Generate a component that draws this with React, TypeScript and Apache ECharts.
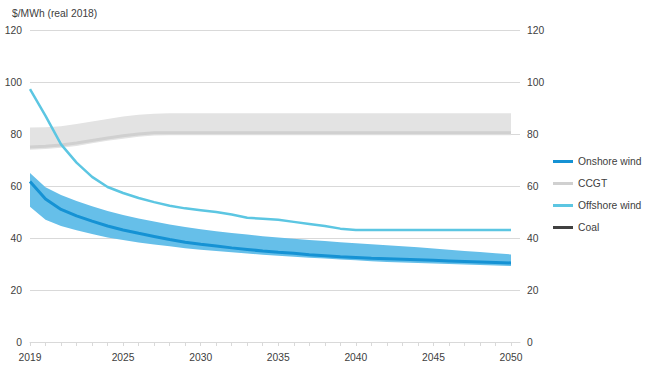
import React, { useEffect, useRef } from "react";
import * as echarts from "echarts";

const years = [
  2019, 2020, 2021, 2022, 2023, 2024, 2025, 2026, 2027, 2028, 2029, 2030, 2031, 2032, 2033, 2034,
  2035, 2036, 2037, 2038, 2039, 2040, 2041, 2042, 2043, 2044, 2045, 2046, 2047, 2048, 2049, 2050,
];

const onshoreWind = [
  61.7, 55.0, 51.0, 48.5, 46.5, 44.6, 43.1, 41.8, 40.6, 39.4, 38.4, 37.6, 36.9, 36.2, 35.6, 35.0,
  34.5, 34.1, 33.6, 33.2, 32.8, 32.5, 32.2, 32.0, 31.8, 31.6, 31.4, 31.2, 31.0, 30.8, 30.6, 30.4,
];
const onshoreHigh = [
  65.0, 59.5, 56.5, 54.2, 52.2, 50.4, 48.8, 47.5, 46.3, 45.2, 44.2, 43.4, 42.6, 41.9, 41.3, 40.7,
  40.2, 39.7, 39.2, 38.8, 38.4, 38.0, 37.6, 37.2, 36.8, 36.4, 36.0, 35.5, 35.0, 34.6, 34.1, 33.7,
];
const onshoreLow = [
  52.0, 47.0, 44.6, 43.0, 41.5, 40.2, 39.2, 38.3, 37.5, 36.8, 36.1, 35.5, 35.0, 34.5, 34.0, 33.6,
  33.2, 32.8, 32.4, 32.1, 31.7, 31.4, 31.1, 30.8, 30.6, 30.4, 30.2, 30.0, 29.8, 29.6, 29.4, 29.2,
];

const offshoreWind = [
  97.3, 87.0, 76.0, 69.0, 63.5, 59.6, 57.3, 55.4, 53.8, 52.4, 51.4, 50.7, 50.0, 49.0, 47.8, 47.4,
  47.0, 46.2, 45.4, 44.6, 43.6, 43.1, 43.1, 43.1, 43.1, 43.1, 43.1, 43.1, 43.1, 43.1, 43.1, 43.1,
];

const ccgt = [
  75.0, 75.3, 75.8, 76.5, 77.5, 78.5, 79.3, 80.0, 80.5, 80.5, 80.5, 80.5, 80.5, 80.5, 80.5, 80.5,
  80.5, 80.5, 80.5, 80.5, 80.5, 80.5, 80.5, 80.5, 80.5, 80.5, 80.5, 80.5, 80.5, 80.5, 80.5, 80.5,
];
const ccgtHigh = [
  82.5, 82.6, 83.0, 83.8, 84.8, 85.8, 86.7, 87.4, 87.8, 88.0, 88.0, 88.0, 88.0, 88.0, 88.0, 88.0,
  88.0, 88.0, 88.0, 88.0, 88.0, 88.0, 88.0, 88.0, 88.0, 88.0, 88.0, 88.0, 88.0, 88.0, 88.0, 88.0,
];
const ccgtLow = [
  73.9, 74.2, 74.7, 75.4, 76.4, 77.4, 78.2, 78.9, 79.4, 79.5, 79.5, 79.5, 79.5, 79.5, 79.5, 79.5,
  79.5, 79.5, 79.5, 79.5, 79.5, 79.5, 79.5, 79.5, 79.5, 79.5, 79.5, 79.5, 79.5, 79.5, 79.5, 79.5,
];

const coal: number[] = [];

const legendNames = ["Onshore wind", "CCGT", "Offshore wind", "Coal"];
const yTicks = [0, 20, 40, 60, 80, 100, 120];
const labelledYears = [2019, 2025, 2030, 2035, 2040, 2045, 2050];
const unitTitle = "$/MWh (real 2018)";

const FONT = "'Liberation Sans', Arial, sans-serif";
const FS = 10.3;
const TEXT = "#404040";
const GRID = "#d9d9d9";

function bandSeries(name: string, low: number[], high: number[], fill: string, z: number) {
  return {
    name,
    type: "custom",
    silent: true,
    z,
    data: years.map((y, i) => [y, low[i], high[i]]),
    encode: { x: 0, y: [1, 2] },
    renderItem: (params: any, api: any) => {
      if (params.dataIndex !== 0) return null;
      const pts: number[][] = [];
      for (let i = 0; i < years.length; i++) pts.push(api.coord([years[i], high[i]]));
      for (let i = years.length - 1; i >= 0; i--) pts.push(api.coord([years[i], low[i]]));
      return { type: "polygon", shape: { points: pts }, style: { fill, stroke: null } };
    },
  };
}

function lineSeries(name: string, values: number[], color: string, width: number, z: number) {
  return {
    name,
    type: "line",
    z,
    data: values.map((v, i) => [years[i], v]),
    showSymbol: false,
    symbol: "none",
    smooth: false,
    color,
    itemStyle: { color },
    lineStyle: { color, width },
  };
}

export default function App() {
  const ref = useRef<HTMLDivElement>(null);
  useEffect(() => {
    if (!ref.current) return;
    const chart = echarts.init(ref.current, undefined, { renderer: "svg" });
    chart.setOption({
      animation: false,
      backgroundColor: "#ffffff",
      textStyle: { fontFamily: FONT },
      title: {
        text: unitTitle,
        left: 7,
        top: 3,
        textStyle: { fontFamily: FONT, fontSize: FS, fontWeight: "normal", color: TEXT },
      },
      legend: {
        data: legendNames.map((n) => ({ name: n, icon: "rect" })),
        orient: "vertical",
        left: 548,
        top: 150,
        itemWidth: 20,
        itemHeight: 3,
        itemGap: 9,
        textStyle: { fontFamily: FONT, fontSize: FS, color: TEXT, lineHeight: 13 },
        selectedMode: false,
      },
      grid: { left: 30, right: 133, top: 30, bottom: 38, containLabel: false },
      xAxis: {
        type: "value",
        min: 2019,
        max: 2050.58,
        interval: 1,
        axisLine: { show: true, lineStyle: { color: GRID, width: 1 } },
        axisTick: { show: true, length: 4, lineStyle: { color: GRID } },
        splitLine: { show: false },
        axisLabel: {
          margin: 10,
          color: TEXT,
          fontFamily: FONT,
          fontSize: FS,
          showMaxLabel: false,
          formatter: (v: number) => (labelledYears.includes(v) ? String(v) : ""),
        },
      },
      yAxis: [
        {
          type: "value",
          min: yTicks[0],
          max: yTicks[yTicks.length - 1],
          interval: 20,
          axisLine: { show: false },
          axisTick: { show: false },
          splitLine: { show: true, lineStyle: { color: GRID, width: 1 } },
          axisLabel: { margin: 8, color: TEXT, fontFamily: FONT, fontSize: FS },
        },
        {
          type: "value",
          position: "right",
          min: yTicks[0],
          max: yTicks[yTicks.length - 1],
          interval: 20,
          axisLine: { show: false },
          axisTick: { show: false },
          splitLine: { show: false },
          axisLabel: { margin: 7, color: TEXT, fontFamily: FONT, fontSize: FS },
        },
      ],
      series: [
        bandSeries("CCGT range", ccgtLow, ccgtHigh, "#e3e3e3", 1),
        lineSeries("CCGT", ccgt, "#d0d0d0", 3, 2),
        bandSeries("Onshore range", onshoreLow, onshoreHigh, "#66bfe9", 3),
        lineSeries("Onshore wind", onshoreWind, "#1592d4", 3, 4),
        lineSeries("Offshore wind", offshoreWind, "#5cc6e2", 2.5, 5),
        lineSeries("Coal", coal, "#404040", 3, 6),
      ],
    });
    return () => chart.dispose();
  }, []);
  return (
    <div
      ref={ref}
      style={{ position: "fixed", left: 0, top: 0, width: 653, height: 380 }}
    />
  );
}
